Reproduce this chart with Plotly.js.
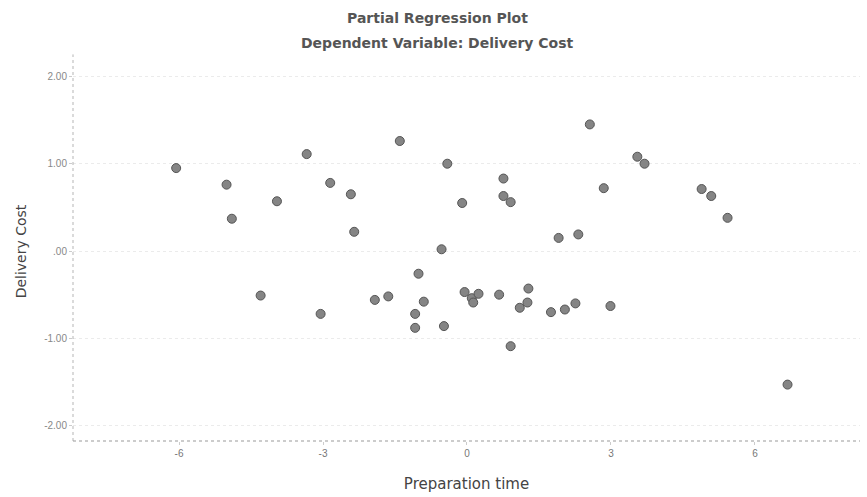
<!DOCTYPE html>
<html>
<head>
<meta charset="utf-8">
<script src="https://cdn.plot.ly/plotly-3.0.1.min.js"></script>
<style>html,body{margin:0;padding:0;background:#fff;}#chart{width:867px;height:497px;}</style>
</head>
<body>
<div id="chart"></div>
<script>
// Partial regression residuals
const prepTime = [-6.06, -5.01, -4.90, -3.96, -4.30, -3.34, -2.85, -2.42, -3.05, -2.35, -1.40, -1.92, -1.64, -1.01, -0.90, -1.08, -1.08, -0.48, -0.53, -0.41, -0.10, -0.05, 0.10, 0.13, 0.24, 0.67, 0.76, 0.76, 0.91, 0.91, 1.10, 1.26, 1.28, 1.75, 1.91, 2.04, 2.26, 2.32, 2.56, 2.85, 2.99, 3.55, 3.70, 4.89, 5.09, 5.43, 6.68];
const deliveryCost = [0.95, 0.76, 0.37, 0.57, -0.51, 1.11, 0.78, 0.65, -0.72, 0.22, 1.26, -0.56, -0.52, -0.26, -0.58, -0.72, -0.88, -0.86, 0.02, 1.00, 0.55, -0.47, -0.54, -0.59, -0.49, -0.50, 0.83, 0.63, 0.56, -1.09, -0.65, -0.59, -0.43, -0.70, 0.15, -0.67, -0.60, 0.19, 1.45, 0.72, -0.63, 1.08, 1.00, 0.71, 0.63, 0.38, -1.53];

const xTickVals = [-6, -3, 0, 3, 6];
const xTickText = ['-6', '-3', '0', '3', '6'];
const yTickVals = [2, 1, 0, -1, -2];
const yTickText = ['2.00', '1.00', '.00', '-1.00', '-2.00'];

const trace = {
  x: prepTime,
  y: deliveryCost,
  type: 'scatter',
  mode: 'markers',
  marker: {size: 9, color: '#858585', line: {color: '#555', width: 1}},
  hoverinfo: 'x+y'
};

const titleFont = 'DejaVu Sans, Verdana, sans-serif';

const layout = {
  width: 867, height: 497,
  margin: {l: 73, r: 7, t: 62, b: 56},
  paper_bgcolor: '#fff', plot_bgcolor: '#fff',
  showlegend: false,
  font: {family: 'Liberation Sans, Arial, sans-serif', color: '#555'},
  xaxis: {
    range: [-8.21, 8.19],
    tickvals: xTickVals, ticktext: xTickText,
    showgrid: false, zeroline: false, showline: false,
    ticks: 'outside', ticklen: 3, tickcolor: '#ccc',
    tickfont: {size: 10, color: '#777'},
    title: {text: 'Preparation time', font: {family: titleFont, size: 15, color: '#444'}, standoff: 20}
  },
  yaxis: {
    range: [-2.176, 2.165],
    tickvals: yTickVals, ticktext: yTickText,
    showgrid: true, gridcolor: '#ebebeb', griddash: 'dot', gridwidth: 1,
    zeroline: false, showline: false,
    ticks: 'outside', ticklen: 3, tickcolor: '#ccc',
    tickfont: {size: 10, color: '#888'},
    title: {text: 'Delivery Cost', font: {family: titleFont, size: 14, color: '#444'}, standoff: 14}
  },
  shapes: [
    {type: 'line', xref: 'paper', yref: 'paper', x0: 0, x1: 0, y0: 0, y1: 1.02, line: {color: '#b5b5b5', width: 1, dash: 'dot'}},
    {type: 'line', xref: 'paper', yref: 'paper', x0: 0, x1: 1, y0: 0, y1: 0, line: {color: '#999', width: 1, dash: 'dot'}}
  ],
  annotations: [
    {text: '<b>Partial Regression Plot</b>', xref: 'paper', yref: 'paper', x: 0.4635, y: 1.116, xanchor: 'center', yanchor: 'middle', showarrow: false, font: {family: titleFont, size: 14, color: '#555'}},
    {text: '<b>Dependent Variable: Delivery Cost</b>', xref: 'paper', yref: 'paper', x: 0.4635, y: 1.05, xanchor: 'center', yanchor: 'middle', showarrow: false, font: {family: titleFont, size: 14, color: '#555'}}
  ]
};

Plotly.newPlot('chart', [trace], layout, {displayModeBar: false, staticPlot: true});
</script>
</body>
</html>
